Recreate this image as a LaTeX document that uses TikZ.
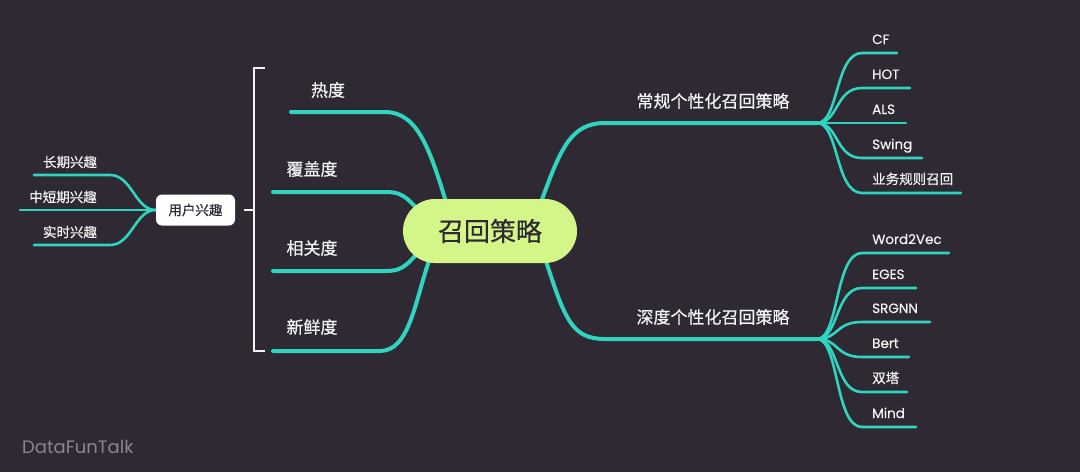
\documentclass[tikz,border=0pt]{standalone}
\usepackage{fontspec}
\setmainfont{Noto Sans CJK SC}[FakeBold=0.5]
\newfontfamily\popfont{Poppins}[FakeBold=0.4]
\newfontfamily\markfont{Poppins}
\usetikzlibrary{calc}
\pgfdeclarelayer{back}
\pgfdeclarelayer{edges}
\pgfsetlayers{back,edges,main}
\definecolor{bgdark}{HTML}{2E2933}
\definecolor{mintline}{HTML}{2FD5BF}
\definecolor{hubgreen}{HTML}{D4F688}
\definecolor{txtwhite}{HTML}{F4F4F4}
\definecolor{wmgray}{HTML}{8A8690}
\begin{document}
\begin{tikzpicture}[x=1pt,y=-1pt,
  hub/.style={fill=hubgreen,rounded corners=32pt,minimum width=174pt,minimum height=64pt,inner sep=0pt,text=bgdark,font=\fontsize{26}{30}\selectfont},
  topic/.style={text=txtwhite,font=\fontsize{17}{20}\selectfont},
  small/.style={text=txtwhite,font=\fontsize{13.5}{16}\selectfont},
  leaf/.style={anchor=base west,inner sep=0pt,text=txtwhite,font=\fontsize{13.5}{16}\selectfont\popfont},
  cjkleaf/.style={anchor=base west,inner sep=0pt,text=txtwhite,font=\fontsize{13.5}{16}\selectfont},
  branch/.style={draw=mintline,line width=4pt,line cap=round},
  twig/.style={draw=mintline,line width=2.6pt,line cap=round},
  bracket/.style={draw=txtwhite,line width=1.6pt}]
\begin{pgfonlayer}{back}
\fill[bgdark] (0,0) rectangle (1080,472);
\end{pgfonlayer}
\useasboundingbox (0,0) rectangle (1080,472);

% centre
\node[hub] (hub) at (490,231) {召回策略};

% left topics
\node[topic] (hot) at (328,90) {热度};
\node[topic] (cover) at (312,169) {覆盖度};
\node[topic] (rel) at (312,248) {相关度};
\node[topic] (fresh) at (312,327) {新鲜度};
\coordinate (hotU) at (291,112);
\coordinate (coverU) at (273,192);
\coordinate (relU) at (273,271);
\coordinate (freshU) at (273,351);

% bracket and user interest
\draw[bracket] (265,68) -- (254,68) -- (254,351) -- (265,351);
\draw[bracket] (254,210) -- (244,210);
\node[small,fill=white,rounded corners=6pt,minimum width=79pt,minimum height=31pt,text=bgdark] (ui) at (195.5,210) {用户兴趣};
\node[small] (long) at (70,162) {长期兴趣};
\node[small] (mid) at (63,197) {中短期兴趣};
\node[small] (now) at (70,232) {实时兴趣};
\coordinate (longU) at (34,175);
\coordinate (midU) at (20,210);
\coordinate (nowU) at (34,245);

% right topics
\node[topic] (norm) at (713,101) {常规个性化召回策略};
\node[topic] (deep) at (713,317) {深度个性化召回策略};
\coordinate (normJ) at (817,123);
\coordinate (deepJ) at (817,339);

\node[leaf] (cf) at (872,44) {CF};
\node[leaf] (hotl) at (872,79) {HOT};
\node[leaf] (als) at (872,114) {ALS};
\node[leaf] (swing) at (872,149) {Swing};
\node[cjkleaf] (rule) at (872,184) {业务规则召回};
\coordinate (cfU) at (897,53);
\coordinate (hotlU) at (910,88);
\coordinate (alsU) at (906,123);
\coordinate (swingU) at (922,158);
\coordinate (ruleU) at (961,193);

\node[leaf] (w2v) at (872,244) {Word2Vec};
\node[leaf] (eges) at (872,279) {EGES};
\node[leaf] (srgnn) at (872,313) {SRGNN};
\node[leaf] (bert) at (872,348) {Bert};
\node[cjkleaf] (tower) at (872,383) {双塔};
\node[leaf] (mind) at (872,418) {Mind};
\coordinate (w2vU) at (949,253);
\coordinate (egesU) at (916,288);
\coordinate (srgnnU) at (930,322);
\coordinate (bertU) at (909,357);
\coordinate (towerU) at (907,392);
\coordinate (mindU) at (916,427);

\node[anchor=base west,inner sep=0pt,text=wmgray,font=\fontsize{18}{20}\selectfont\markfont] (mark) at (22,453) {DataFunTalk};

\begin{pgfonlayer}{edges}
\draw[branch] ($(hub)+(-43,-26)$) .. controls (430,150) and (418,112) .. (385,112) -- (hotU);
\draw[branch] ($(hub)+(-70,-19)$) .. controls (405,195) and (400,192) .. (385,192) -- (coverU);
\draw[branch] ($(hub)+(-70,19)$) .. controls (405,268) and (400,271) .. (385,271) -- (relU);
\draw[branch] ($(hub)+(-60,27)$) .. controls (415,300) and (410,351) .. (380,351) -- (freshU);
\draw[branch] ($(hub)+(50,-26)$) .. controls (560,150) and (570,123) .. (605,123) -- (normJ);
\draw[branch] ($(hub)+(55,27)$) .. controls (565,320) and (572,339) .. (605,339) -- (deepJ);

\draw[twig] (ui.west) .. controls (135,210) and (132,175) .. (110,175) -- (longU);
\draw[twig] (ui.west) -- (midU);
\draw[twig] (ui.west) .. controls (135,210) and (132,245) .. (110,245) -- (nowU);

\draw[twig] (normJ) .. controls (839,123) and (835,53) .. (862,53) -- (cfU);
\draw[twig] (normJ) .. controls (839,123) and (835,88) .. (862,88) -- (hotlU);
\draw[twig] (normJ) -- (alsU);
\draw[twig] (normJ) .. controls (839,123) and (835,158) .. (862,158) -- (swingU);
\draw[twig] (normJ) .. controls (839,123) and (835,193) .. (862,193) -- (ruleU);

\draw[twig] (deepJ) .. controls (839,339) and (835,253) .. (862,253) -- (w2vU);
\draw[twig] (deepJ) .. controls (839,339) and (835,288) .. (862,288) -- (egesU);
\draw[twig] (deepJ) .. controls (839,339) and (835,322) .. (862,322) -- (srgnnU);
\draw[twig] (deepJ) .. controls (839,339) and (835,357) .. (862,357) -- (bertU);
\draw[twig] (deepJ) .. controls (839,339) and (835,392) .. (862,392) -- (towerU);
\draw[twig] (deepJ) .. controls (839,339) and (835,427) .. (862,427) -- (mindU);
\end{pgfonlayer}
\end{tikzpicture}
\end{document}
